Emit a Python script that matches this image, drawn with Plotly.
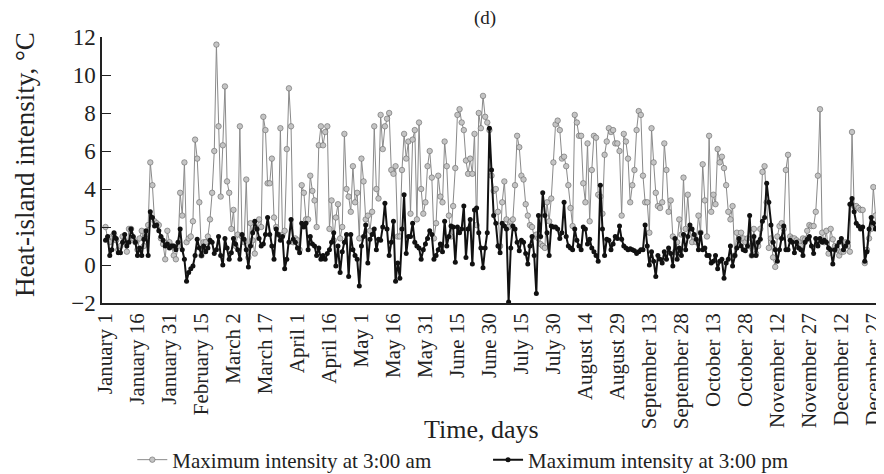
import plotly.graph_objects as go

days = list(range(365))

tick_days = list(range(0, 361, 15))
tick_labels = ["January 1", "January 16", "January 31", "February 15", "March 2",
               "March 17", "April 1", "April 16", "May 1", "May 16", "May 31",
               "June 15", "June 30", "July 15", "July 30", "August 14", "August 29",
               "September 13", "September 28", "October 13", "October 28",
               "November 12", "November 27", "December 12", "December 27"]

y_tick_vals = [-2, 0, 2, 4, 6, 8, 10, 12]
y_tick_text = ["\u22122", "0", "5", "4", "6", "8", "10", "12"]

# Maximum intensity at 3:00 am (grey)
am_values = [
    2.0, 1.4, 1.2, 1.5, 1.6, 1.3, 0.8, 1.0, 1.5, 1.2,
    0.7, 1.9, 1.9, 1.4, 1.2, 0.8, 1.4, 1.8, 1.0, 1.6,
    2.1, 5.4, 4.2, 2.3, 2.2, 2.1, 1.4, 1.1, 0.3, 1.8,
    1.2, 1.0, 0.5, 0.3, 1.0, 3.8, 2.6, 5.4, 1.2, 1.4,
    1.5, 2.3, 6.6, 5.6, 3.3, 0.5, 1.2, 1.2, 1.5, 2.4,
    3.8, 6.0, 11.6, 7.3, 3.6, 6.3, 9.4, 4.4, 3.8, 1.9,
    2.9, 1.0, 1.6, 7.3, 1.5, 1.2, 4.5, 0.4, 2.2, 1.3,
    0.6, 1.9, 2.4, 2.0, 7.8, 7.1, 4.3, 4.3, 5.6, 2.5,
    2.0, 1.6, 7.2, 1.6, 1.8, 6.1, 9.3, 7.3, 1.2, 1.4,
    1.3, 0.8, 4.2, 3.8, 2.4, 2.4, 4.7, 3.9, 3.4, 2.0,
    6.3, 7.3, 6.3, 7.0, 7.3, 1.9, 3.4, 1.3, 2.5, 3.2,
    1.4, 2.0, 6.9, 4.0, 3.6, 2.8, 5.2, 3.3, 3.8, 1.4,
    5.6, 4.4, 2.4, 2.6, 1.8, 2.8, 7.3, 4.0, 3.5, 7.9,
    6.1, 7.3, 7.7, 8.0, 5.0, 4.8, 5.2, 1.5, 1.5, 5.0,
    6.9, 5.6, 6.5, 2.7, 6.6, 7.1, 2.4, 7.5, 4.0, 2.7,
    3.3, 5.2, 6.0, 4.6, 1.4, 2.2, 4.7, 3.6, 3.3, 6.5,
    5.2, 2.6, 1.5, 3.1, 5.1, 7.9, 8.2, 7.5, 7.1, 5.5,
    4.8, 5.6, 4.8, 6.9, 2.1, 8.0, 7.2, 8.9, 7.8, 7.5,
    7.1, 4.7, 3.9, 4.0, 2.8, 1.0, 3.3, 4.4, 2.4, 2.0,
    2.3, 2.4, 4.2, 6.8, 6.2, 4.7, 4.5, 3.2, 2.6, 2.1,
    2.0, 1.5, 1.6, 1.4, 1.1, 1.0, 0.9, 3.3, 2.3, 3.5,
    5.4, 7.4, 7.6, 7.1, 5.6, 5.7, 5.2, 4.2, 3.0, 2.05,
    7.9, 7.5, 6.8, 6.8, 4.3, 3.3, 6.4, 2.3, 5.0, 6.8,
    6.7, 3.7, 3.6, 2.7, 5.8, 6.5, 7.2, 7.0, 7.1, 6.4,
    6.4, 6.0, 2.6, 6.9, 6.5, 5.6, 3.3, 4.2, 5.0, 7.1,
    8.1, 7.9, 4.7, 3.3, 3.3, 1.7, 7.2, 5.4, 3.8, 3.1,
    3.0, 3.3, 6.4, 5.0, 2.8, 3.4, 1.5, 0.7, 1.2, 2.4,
    1.6, 4.6, 1.9, 3.7, 1.9, 1.2, 1.5, 1.2, 2.6, 1.7,
    5.3, 3.4, 1.5, 6.8, 2.8, 3.7, 3.2, 6.1, 5.4, 5.7,
    5.1, 4.2, 2.8, 2.4, 3.1, 0.5, 1.7, 1.3, 1.7, 1.4,
    1.2, 1.4, 1.0, 0.5, 1.9, 0.6, 1.0, 1.9, 4.9, 5.2,
    3.3, 0.9, 1.4, 0.4, -0.1, 1.5, 2.05, 2.2, 1.9, 5.0,
    5.8, 1.5, 1.4, 1.4, 1.3, 1.2, 1.0, 1.4, 1.35, 1.8,
    2.1, 2.05, 2.05, 2.8, 4.7, 8.2, 1.7, 1.2, 1.8, 0.6,
    1.9, 1.35, 1.0, 0.8, 0.5, 0.7, 0.7, 1.2, 1.0, 0.7,
    7.0, 3.1, 3.1, 3.0, 2.9, 2.9, 0.1, 0.8, 1.4, 1.9,
    4.1, 2.6, 2.3, 3.2, 1.9,
]

# Maximum intensity at 3:00 pm (black)
pm_values = [
    1.3, 1.5, 0.5, 0.8, 1.7, 1.4, 0.65, 0.65, 1.2, 1.6,
    1.0, 1.2, 1.9, 1.5, 1.2, 0.5, 0.9, 0.5, 1.35, 1.8,
    0.5, 2.8, 2.5, 2.05, 2.1, 1.8, 1.5, 1.3, 1.0, 1.1,
    0.9, 1.0, 1.0, 0.8, 1.2, 1.9, 0.8, 0.3, -0.85, -0.4,
    -0.2, -0.05, 0.5, 1.35, 0.9, 0.5, 1.0, 0.7, 0.9, 1.3,
    1.2, 0.6, 0.8, 1.5, 0.5, 0.0, 1.4, 0.9, 0.3, 0.65,
    1.4, 1.1, 0.8, 0.3, 1.6, 1.35, 0.8, -0.1, 1.0, 1.7,
    2.3, 1.9, 1.4, 1.0, 1.1, 1.6, 2.5, 1.6, 1.0, 0.3,
    1.9, 1.6, 1.3, 1.5, -0.2, 0.3, 1.2, 2.4, 1.35, 1.2,
    0.9, 0.65, 2.2, 2.0, 2.2, 0.8, 1.5, 1.1, 1.0, 0.5,
    0.9, 0.3, 0.5, 0.3, 0.6, 0.8, 1.2, 1.7, -0.05, 1.0,
    -0.4, 0.7, 1.2, 1.6, -0.6, 1.6, 0.8, 0.5, 0.3, -1.1,
    1.0, 1.5, 2.1, 0.1, 1.35, 1.6, 1.9, 0.8, 1.35, 1.3,
    2.0, 3.25, 1.9, 0.5, 1.2, 2.3, -0.85, 0.1, -0.7, 1.9,
    3.7, 0.6, 1.5, 1.5, 2.2, 1.2, 1.0, 0.9, 0.3, 0.8,
    1.1, 1.4, 1.8, 1.6, 0.3, 0.5, 0.8, 1.1, 0.7, 2.3,
    1.0, 1.5, 2.05, 2.0, 0.15, 2.0, 1.7, 1.9, 3.1, 0.4,
    1.9, 2.4, 0.05, 2.9, 3.0, 1.7, 0.9, -0.15, 0.9, 1.7,
    7.2, 5.0, 2.6, 2.2, 1.0, 0.65, 2.2, 2.05, 1.9, -1.95,
    0.9, 2.05, 1.9, 1.2, 0.75, 1.3, 1.2, 0.6, 0.05, 1.0,
    1.5, 0.5, -1.5, 2.6, 1.5, 3.8, 2.6, 1.7, 0.5, 2.05,
    2.0, 2.0, 1.9, 1.4, 1.7, 3.3, 1.5, 1.0, 0.9, 0.8,
    1.9, 1.3, 1.0, 0.8, 2.0, 1.9, 1.1, 1.35, 0.9, 0.7,
    0.5, 0.2, 4.2, 1.9, 0.5, 1.35, 1.3, 0.8, 1.1, 1.5,
    1.4, 2.05, 1.35, 1.0, 0.9, 0.8, 0.85, 0.8, 0.75, 0.6,
    0.7, 0.8, 0.8, 2.1, 1.0, 0.0, 0.7, 0.2, -0.6, 0.5,
    0.3, 0.1, 0.7, 0.3, 0.9, 0.6, -0.05, 1.4, 0.3, 0.9,
    0.5, 1.6, 0.8, 1.5, 2.1, 1.9, 1.6, 1.35, 0.8, 1.7,
    0.8, 0.9, 0.5, 0.5, 0.1, 0.2, 0.5, -0.2, 0.2, 0.3,
    -0.7, 0.1, 0.3, 1.0, -0.05, 0.5, 0.9, 1.4, 1.0, 0.8,
    0.75, 1.0, 2.6, 0.5, 1.5, 0.5, 1.2, 1.35, 2.3, 2.5,
    4.3, 3.3, 2.1, 1.2, 0.8, 0.2, 0.8, 1.4, 2.05, 0.8,
    0.8, 1.3, 1.2, 0.65, 1.2, 0.9, 0.8, 0.5, 1.2, 1.35,
    1.5, 1.0, 0.6, 1.4, 1.0, 1.4, 1.2, 1.3, 1.2, 0.9,
    0.8, 0.05, 0.8, 1.0, 1.2, 1.4, 0.8, 1.0, 1.2, 3.2,
    3.5, 2.8, 2.2, 2.05, 1.9, 2.0, 0.2, 0.7, 1.9, 2.5,
    2.2, 1.9, 2.0, 2.05, 2.6,
]

FONT = "Liberation Serif"
TXT = "#222222"

fig = go.Figure()
fig.add_trace(go.Scatter(
    x=days, y=am_values, mode="lines+markers",
    name="Maximum intensity at 3:00 am",
    line=dict(color="#8a8a8a", width=1),
    marker=dict(symbol="circle", size=5.5, color="#c4c4c4",
                line=dict(color="#666666", width=0.6)),
    legend="legend",
))
fig.add_trace(go.Scatter(
    x=days, y=pm_values, mode="lines+markers",
    name="Maximum intensity at 3:00 pm",
    line=dict(color="#111111", width=2),
    marker=dict(symbol="circle", size=5, color="#111111"),
    legend="legend2",
))

# The page adds an 8 px body margin, so the figure is 8 px smaller each way
fig.update_layout(
    width=876, height=466,
    margin=dict(l=94, r=0, t=29, b=171),
    paper_bgcolor="white", plot_bgcolor="white",
    font=dict(family=FONT, color=TXT, size=20),
    showlegend=True,
    legend=dict(xref="container", yref="container", x=0.1419, y=0.030,
                xanchor="left", yanchor="middle", orientation="h",
                font=dict(family=FONT, size=21, color=TXT),
                bgcolor="rgba(0,0,0,0)", borderwidth=0),
    legend2=dict(xref="container", yref="container", x=0.548, y=0.030,
                 xanchor="left", yanchor="middle", orientation="h",
                 font=dict(family=FONT, size=21, color=TXT),
                 bgcolor="rgba(0,0,0,0)", borderwidth=0),
    xaxis=dict(
        range=[-1.64, 365.0],
        tickmode="array", tickvals=tick_days, ticktext=tick_labels,
        tickangle=-90, ticks="", showgrid=False, zeroline=False,
        showline=True, linecolor="#222222", linewidth=1.5,
        tickfont=dict(family=FONT, size=21, color=TXT),
        ticklabeloverflow="allow",
        automargin=False,
    ),
    yaxis=dict(
        range=[-2, 12],
        tickmode="array", tickvals=y_tick_vals, ticktext=y_tick_text,
        ticks="inside", ticklen=9, tickwidth=1.2, tickcolor="#222222",
        showgrid=False, zeroline=False,
        showline=True, linecolor="#222222", linewidth=1.5,
        tickfont=dict(family=FONT, size=23, color=TXT),
        automargin=False,
    ),
    annotations=[
        dict(text="(d)", xref="paper", yref="paper", x=0.4898, y=1.0714,
             showarrow=False, font=dict(family=FONT, size=19, color=TXT),
             xanchor="center", yanchor="middle"),
        dict(text="Time, days", xref="paper", yref="paper", x=0.4847, y=-0.477,
             showarrow=False, font=dict(family=FONT, size=26, color=TXT),
             xanchor="center", yanchor="middle"),
        dict(text="Heat-island intensity, \u00b0C", xref="paper", yref="paper",
             x=-0.0985, y=0.5226, textangle=-90, showarrow=False,
             font=dict(family=FONT, size=27, color=TXT),
             xanchor="center", yanchor="middle"),
    ],
)

fig.write_html("out.html")
